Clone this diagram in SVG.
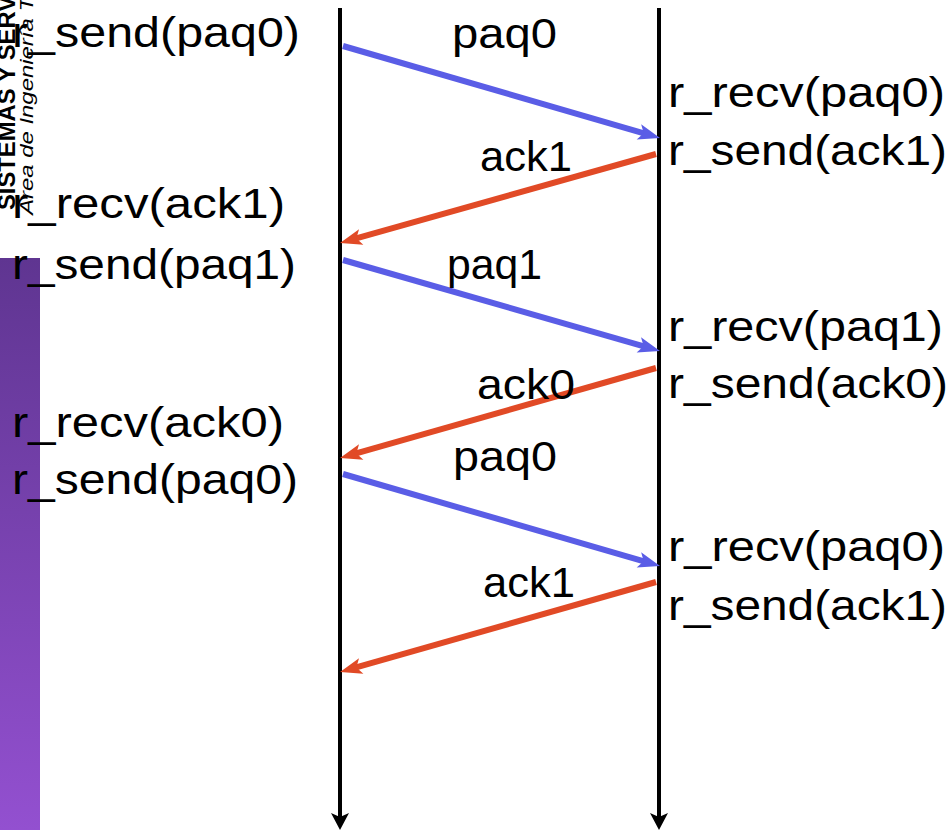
<svg xmlns="http://www.w3.org/2000/svg" width="950" height="830" viewBox="0 0 950 830">
<style>
.t{font-family:"Liberation Sans",Arial,sans-serif;font-size:42px;fill:#000}
.tl{stroke:#000;stroke-width:4;fill:none}
.blue{stroke:#5a5de6;stroke-width:6;fill:none}
.red{stroke:#e14a26;stroke-width:6;fill:none}
.side1{font-family:"Liberation Sans",Arial,sans-serif;font-size:24px;font-weight:bold;fill:#000}
.side2{font-family:"Liberation Sans",Arial,sans-serif;font-size:19px;font-style:italic;fill:#000}
</style>
<defs>
<linearGradient id="pg" x1="0" y1="0" x2="0" y2="1">
<stop offset="0" stop-color="#5f3591"/>
<stop offset="1" stop-color="#9350d0"/>
</linearGradient>
<marker id="mb" markerUnits="userSpaceOnUse" markerWidth="24" markerHeight="18" refX="8" refY="0" viewBox="0 -9 24 18" orient="auto" overflow="visible">
<path d="M0,-8 L22,0 L0,8 L5,0 Z" fill="#5a5de6"/>
</marker>
<marker id="mr" markerUnits="userSpaceOnUse" markerWidth="24" markerHeight="18" refX="8" refY="0" viewBox="0 -9 24 18" orient="auto" overflow="visible">
<path d="M0,-8 L22,0 L0,8 L5,0 Z" fill="#e14a26"/>
</marker>
<marker id="mk" markerUnits="userSpaceOnUse" markerWidth="20" markerHeight="20" refX="5" refY="0" viewBox="0 -10 20 20" orient="auto" overflow="visible">
<path d="M0,-9 L17,0 L0,9 L4,0 Z" fill="#000"/>
</marker>
</defs>
<rect id="bar" x="0" y="258" width="40" height="572" fill="url(#pg)"/>
<g id="sidebar-text">
<text class="side1" transform="translate(15,210) rotate(-90)" textLength="214" lengthAdjust="spacingAndGlyphs">SISTEMAS Y SERV</text>
<text class="side2" transform="translate(33,215) rotate(-90)" textLength="218" lengthAdjust="spacingAndGlyphs">Área de Ingeniería T</text>
</g>
<g id="timelines">
<line id="sender-line" class="tl" x1="340" y1="8" x2="340" y2="818" marker-end="url(#mk)"/>
<line id="receiver-line" class="tl" x1="659" y1="8" x2="659" y2="818" marker-end="url(#mk)"/>
</g>
<g id="connectors">
<line class="blue" x1="343" y1="46" x2="646.6" y2="134.1" marker-end="url(#mb)"/>
<line class="red" x1="656" y1="154" x2="353.5" y2="239.2" marker-end="url(#mr)"/>
<line class="blue" x1="343" y1="260" x2="646.5" y2="347.1" marker-end="url(#mb)"/>
<line class="red" x1="656" y1="368" x2="353.5" y2="454.2" marker-end="url(#mr)"/>
<line class="blue" x1="343" y1="474" x2="646.6" y2="562.1" marker-end="url(#mb)"/>
<line class="red" x1="656" y1="582" x2="353.5" y2="668.2" marker-end="url(#mr)"/>
</g>
<g id="sender-events">
<text class="t" x="12" y="47" textLength="288" lengthAdjust="spacingAndGlyphs">r_send(paq0)</text>
<text class="t" x="12" y="218" textLength="273" lengthAdjust="spacingAndGlyphs">r_recv(ack1)</text>
<text class="t" x="12" y="279" textLength="284" lengthAdjust="spacingAndGlyphs">r_send(paq1)</text>
<text class="t" x="12" y="437" textLength="272" lengthAdjust="spacingAndGlyphs">r_recv(ack0)</text>
<text class="t" x="12" y="494" textLength="286" lengthAdjust="spacingAndGlyphs">r_send(paq0)</text>
</g>
<g id="receiver-events">
<text class="t" x="668" y="107" textLength="277" lengthAdjust="spacingAndGlyphs">r_recv(paq0)</text>
<text class="t" x="668" y="165" textLength="279" lengthAdjust="spacingAndGlyphs">r_send(ack1)</text>
<text class="t" x="668" y="341" textLength="275" lengthAdjust="spacingAndGlyphs">r_recv(paq1)</text>
<text class="t" x="668" y="398" textLength="280" lengthAdjust="spacingAndGlyphs">r_send(ack0)</text>
<text class="t" x="668" y="561" textLength="277" lengthAdjust="spacingAndGlyphs">r_recv(paq0)</text>
<text class="t" x="668" y="620" textLength="279" lengthAdjust="spacingAndGlyphs">r_send(ack1)</text>
</g>
<g id="message-labels">
<text class="t" x="452" y="48" textLength="105" lengthAdjust="spacingAndGlyphs">paq0</text>
<text class="t" x="480" y="171" textLength="92" lengthAdjust="spacingAndGlyphs">ack1</text>
<text class="t" x="447" y="279" textLength="95" lengthAdjust="spacingAndGlyphs">paq1</text>
<text class="t" x="477" y="399" textLength="98" lengthAdjust="spacingAndGlyphs">ack0</text>
<text class="t" x="453" y="471" textLength="104" lengthAdjust="spacingAndGlyphs">paq0</text>
<text class="t" x="483" y="597" textLength="92" lengthAdjust="spacingAndGlyphs">ack1</text>
</g>
</svg>
